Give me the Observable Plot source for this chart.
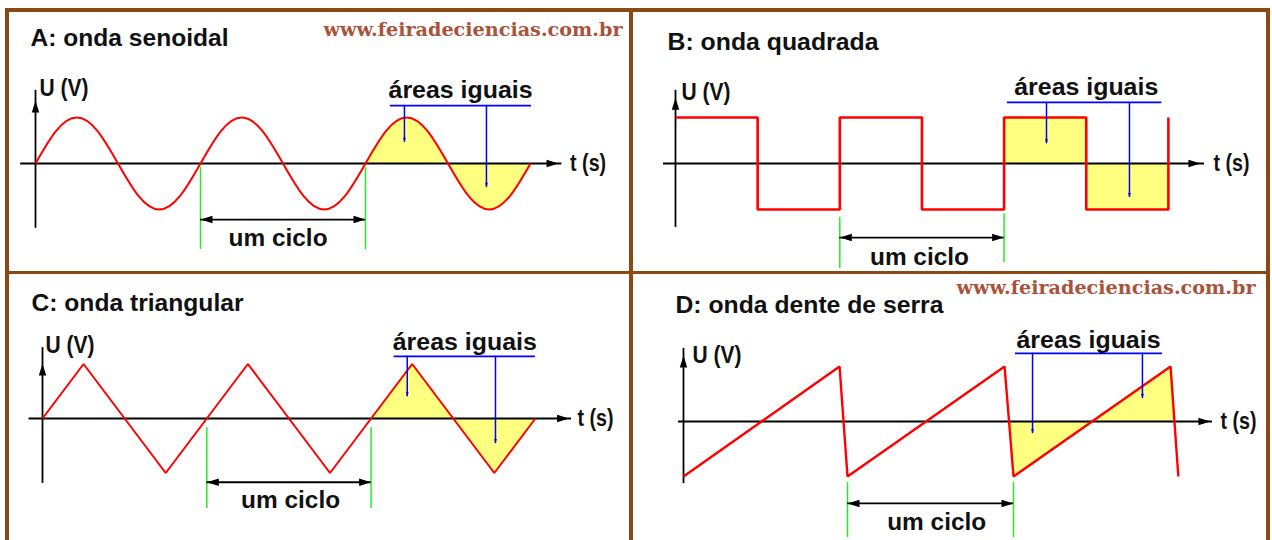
<!DOCTYPE html>
<html><head><meta charset="utf-8">
<script src="https://cdn.jsdelivr.net/npm/d3@7"></script>
<script src="https://cdn.jsdelivr.net/npm/@observablehq/plot@0.6"></script>
<style>
html,body{margin:0;padding:0;background:#fff;}
#page{position:relative;width:1272px;height:540px;overflow:hidden;background:#fff;}
.bd{position:absolute;background:#8b4a14;}
.cell{position:absolute;}
.cell svg{display:block;}
</style></head><body>
<div id="page"></div>
<script>
// ---------------- data ----------------
const panelTitles = ["A: onda senoidal", "B: onda quadrada", "C: onda triangular", "D: onda dente de serra"];
const siteText = "www.feiradeciencias.com.br";
const uLabel = "U (V)";
const tLabel = "t (s)";
const cycleLabel = "um ciclo";
const areaLabel = "áreas iguais";

// A: sine wave, samples every 1/8 cycle (t in cycles, U in amplitudes)
const sineT = [0,0.125,0.25,0.375,0.5,0.625,0.75,0.875,1,1.125,1.25,1.375,1.5,1.625,1.75,1.875,2,2.125,2.25,2.375,2.5,2.625,2.75,2.875,3];
const sineU = [0,0.71,1,0.71,0,-0.71,-1,-0.71,0,0.71,1,0.71,0,-0.71,-1,-0.71,0,0.71,1,0.71,0,-0.71,-1,-0.71,0];

// B: square wave vertices
const squareT = [0,0.5,0.5,1,1,1.5,1.5,2,2,2.5,2.5,3,3];
const squareU = [1,1,-1,-1,1,1,-1,-1,1,1,-1,-1,1];

// C: triangular wave vertices
const triangleT = [0,0.25,0.75,1.25,1.75,2.25,2.75,3];
const triangleU = [0,1,-1,1,-1,1,-1,0];
const triangleFillT = [2,2.25,2.75,3];
const triangleFillU = [0,1,-1,0];

// D: sawtooth wave vertices
const sawT = [0,0.943,0.991,1.94,1.994,2.943,2.99];
const sawU = [-1,1,-1,1,-1,1,-1];
const sawFillT = [1.967,1.994,2.943,2.966];
const sawFillU = [0,-1,1,0];

// ---------------- helpers ----------------
const rows = (T, U) => T.map((t, i) => ({t, u: U[i]}));
const FONT = "'Liberation Sans', Arial, Helvetica, sans-serif";
const SERIF = "'DejaVu Serif', 'Liberation Serif', serif";
const arrowHead = {
  draw(ctx, size) {
    const r = Math.sqrt(size / Math.PI);
    const L = 2.4 * r, W = 1.5 * r;
    ctx.moveTo(0, 0);
    ctx.lineTo(W / 2, L);
    ctx.lineTo(-W / 2, L);
    ctx.closePath();
  }
};

// ---------------- panel layouts (data units: t in cycles, U in amplitudes) ----------------
const panels = [
  {
    title: panelTitles[0], titleW: 198, dx: 22, dy: 27, site: {dx: -6, dy: 19},
    cell: {left: 8, top: 11, w: 620, h: 260}, origin: [35, 163], P: 165, A: 46,
    wave: rows(sineT, sineU), fill: rows(sineT, sineU).filter(d => d.t >= 2),
    curve: "natural", sw: 2, join: "round",
    xAxis: {u: 0, t1: -0.09, t2: 3.19, tip: 3.17}, tLab: {t: 3.24, u: 0},
    yAxis: {t: 0, u1: -1.41, u2: 1.59, tip: 1.37}, uLab: {t: 0.024, u: 1.63},
    green: [{t: 1, u1: -0.09, u2: -1.87}, {t: 2, u1: -0.09, u2: -1.87}],
    cycle: {u: -1.22, t1: 1, t2: 2}, cLab: {t: 1.47, u: -1.63},
    blue: {u: 1.26, t1: 2.15, t2: 3.006}, pointers: [{t: 2.236, u: 0.46}, {t: 2.733, u: -0.52}],
    aLab: {t: 2.576, u: 1.59}
  },
  {
    title: panelTitles[1], titleW: 211, dx: 34, dy: 31, site: null,
    cell: {left: 633, top: 11, w: 633, h: 260}, origin: [675, 163], P: 164.3, A: 46,
    wave: rows(squareT, squareU), fill: rows(squareT, squareU).filter(d => d.t >= 2),
    curve: "linear", sw: 2.6, join: "miter",
    xAxis: {u: 0, t1: -0.073, t2: 3.22, tip: 3.195}, tLab: {t: 3.275, u: 0},
    yAxis: {t: 0, u1: -1.39, u2: 1.59, tip: 1.43}, uLab: {t: 0.037, u: 1.55},
    green: [{t: 1, u1: -1.17, u2: -2.28}, {t: 2, u1: -1.09, u2: -2.15}],
    cycle: {u: -1.61, t1: 1, t2: 2}, cLab: {t: 1.485, u: -2.04},
    blue: {u: 1.33, t1: 2.02, t2: 2.96}, pointers: [{t: 2.258, u: 0.43}, {t: 2.763, u: -0.74}],
    aLab: {t: 2.5, u: 1.65}
  },
  {
    title: panelTitles[2], titleW: 212, dx: 23, dy: 29, site: null,
    cell: {left: 8, top: 274, w: 620, h: 266}, origin: [42, 418], P: 164.3, A: 54.5,
    wave: rows(triangleT, triangleU), fill: rows(triangleFillT, triangleFillU),
    curve: "linear", sw: 2, join: "miter",
    xAxis: {u: 0, t1: -0.082, t2: 3.22, tip: 3.205}, tLab: {t: 3.256, u: 0},
    yAxis: {t: 0, u1: -1.19, u2: 1.30, tip: 1.01}, uLab: {t: 0.018, u: 1.34},
    green: [{t: 1, u1: -0.17, u2: -1.65}, {t: 2, u1: -0.17, u2: -1.65}],
    cycle: {u: -1.17, t1: 1, t2: 2}, cLab: {t: 1.51, u: -1.5},
    blue: {u: 1.14, t1: 2.14, t2: 3.0}, pointers: [{t: 2.22, u: 0.40}, {t: 2.757, u: -0.46}],
    aLab: {t: 2.57, u: 1.39}
  },
  {
    title: panelTitles[3], titleW: 268, dx: 42, dy: 31, site: {dx: -11, dy: 14},
    cell: {left: 633, top: 274, w: 633, h: 266}, origin: [683, 421], P: 165.5, A: 55,
    wave: rows(sawT, sawU), fill: rows(sawFillT, sawFillU),
    curve: "linear", sw: 2.4, join: "miter",
    xAxis: {u: 0, t1: -0.03, t2: 3.196, tip: 3.184}, tLab: {t: 3.245, u: 0},
    yAxis: {t: 0, u1: -1.13, u2: 1.33, tip: 1.2}, uLab: {t: 0.054, u: 1.2},
    green: [{t: 0.991, u1: -1.11, u2: -2.11}, {t: 1.994, u1: -1.11, u2: -2.11}],
    cycle: {u: -1.49, t1: 0.991, t2: 1.994}, cLab: {t: 1.53, u: -1.84},
    blue: {u: 1.24, t1: 2.006, t2: 2.894}, pointers: [{t: 2.109, u: -0.22}, {t: 2.773, u: 0.42}],
    aLab: {t: 2.447, u: 1.47}
  }
];

const labelWidths = {[uLabel]: 49, [tLabel]: 36, [cycleLabel]: 99, [areaLabel]: 144, [siteText]: 299};

function makePanel(p) {
  const {w, h, left, top} = p.cell;
  const ox = p.origin[0] - left, oy = p.origin[1] - top;
  const txt = {fontFamily: FONT, fontWeight: "bold", fontSize: 23, fill: "#111"};
  const marks = [
    Plot.areaY(p.fill, {x: "t", y1: 0, y2: "u", fill: "#ffff80", curve: p.curve}),
    Plot.ruleY([p.xAxis], {y: "u", x1: "t1", x2: "t2", stroke: "#000", strokeWidth: 1.8}),
    Plot.ruleX([p.yAxis], {x: "t", y1: "u1", y2: "u2", stroke: "#000", strokeWidth: 1.8}),
    Plot.dot([p.xAxis], {x: "tip", y: "u", symbol: arrowHead, r: 5, rotate: 90, fill: "#000"}),
    Plot.dot([p.yAxis], {x: "t", y: "tip", symbol: arrowHead, r: 5, rotate: 0, fill: "#000"}),
    Plot.line(p.wave, {x: "t", y: "u", stroke: "#ff0000", strokeWidth: p.sw, curve: p.curve,
      strokeLinejoin: p.join, strokeLinecap: "butt"}),
    Plot.ruleX(p.green, {x: "t", y1: "u1", y2: "u2", stroke: "#22ee22", strokeWidth: 1.5}),
    Plot.ruleY([p.cycle], {y: "u", x1: "t1", x2: "t2", stroke: "#000", strokeWidth: 1.8}),
    Plot.dot([p.cycle], {x: "t1", y: "u", symbol: arrowHead, r: 5, rotate: -90, fill: "#000"}),
    Plot.dot([p.cycle], {x: "t2", y: "u", symbol: arrowHead, r: 5, rotate: 90, fill: "#000"}),
    Plot.ruleY([p.blue], {y: "u", x1: "t1", x2: "t2", stroke: "#0000ff", strokeWidth: 1.7}),
    Plot.ruleX(p.pointers, {x: "t", y1: p.blue.u, y2: "u", stroke: "#0000ff", strokeWidth: 1.5}),
    Plot.dot(p.pointers, {x: "t", y: "u", symbol: arrowHead, r: 1.9, rotate: 180, fill: "#0000ff"}),
    Plot.text([p.tLab], {x: "t", y: "u", text: () => tLabel, textAnchor: "start", ...txt}),
    Plot.text([p.uLab], {x: "t", y: "u", text: () => uLabel, textAnchor: "start", ...txt}),
    Plot.text([p.cLab], {x: "t", y: "u", text: () => cycleLabel, textAnchor: "middle", ...txt}),
    Plot.text([p.aLab], {x: "t", y: "u", text: () => areaLabel, textAnchor: "middle", ...txt}),
    Plot.text([p.title], {frameAnchor: "top-left", dx: p.dx, dy: p.dy, text: d => d,
      textAnchor: "start", lineAnchor: "middle", ...txt})
  ];
  if (p.site) {
    marks.push(Plot.text([siteText], {frameAnchor: "top-right", dx: p.site.dx, dy: p.site.dy, text: d => d,
      textAnchor: "end", lineAnchor: "middle", fontFamily: SERIF, fontWeight: "bold", fontSize: 18, fill: "#a8533a"}));
  }
  const svg = Plot.plot({
    width: w, height: h, margin: 0,
    style: {background: "transparent", overflow: "visible"},
    x: {type: "linear", domain: [-ox / p.P, (w - ox) / p.P], range: [0, w], axis: null},
    y: {type: "linear", domain: [oy / p.A, (oy - h) / p.A], range: [0, h], axis: null},
    marks
  });
  const widths = {...labelWidths, [p.title]: p.titleW};
  svg.querySelectorAll("text").forEach(el => {
    const wd = widths[el.textContent];
    if (wd) { el.setAttribute("textLength", wd); el.setAttribute("lengthAdjust", "spacingAndGlyphs"); }
  });
  const div = document.createElement("div");
  div.className = "cell";
  Object.assign(div.style, {left: left + "px", top: top + "px", width: w + "px", height: h + "px"});
  div.appendChild(svg);
  return div;
}

const page = document.getElementById("page");
panels.forEach(p => page.appendChild(makePanel(p)));

// frame borders
[[5, 8, 1264, 3.5], [5, 8, 3.5, 532], [1266, 8, 4, 532], [628.5, 8, 4, 532], [5, 270.5, 1264, 3.5]]
  .forEach(([l, t, w, h]) => {
    const b = document.createElement("div");
    b.className = "bd";
    Object.assign(b.style, {left: l + "px", top: t + "px", width: w + "px", height: h + "px"});
    page.appendChild(b);
  });
</script>
</body></html>
